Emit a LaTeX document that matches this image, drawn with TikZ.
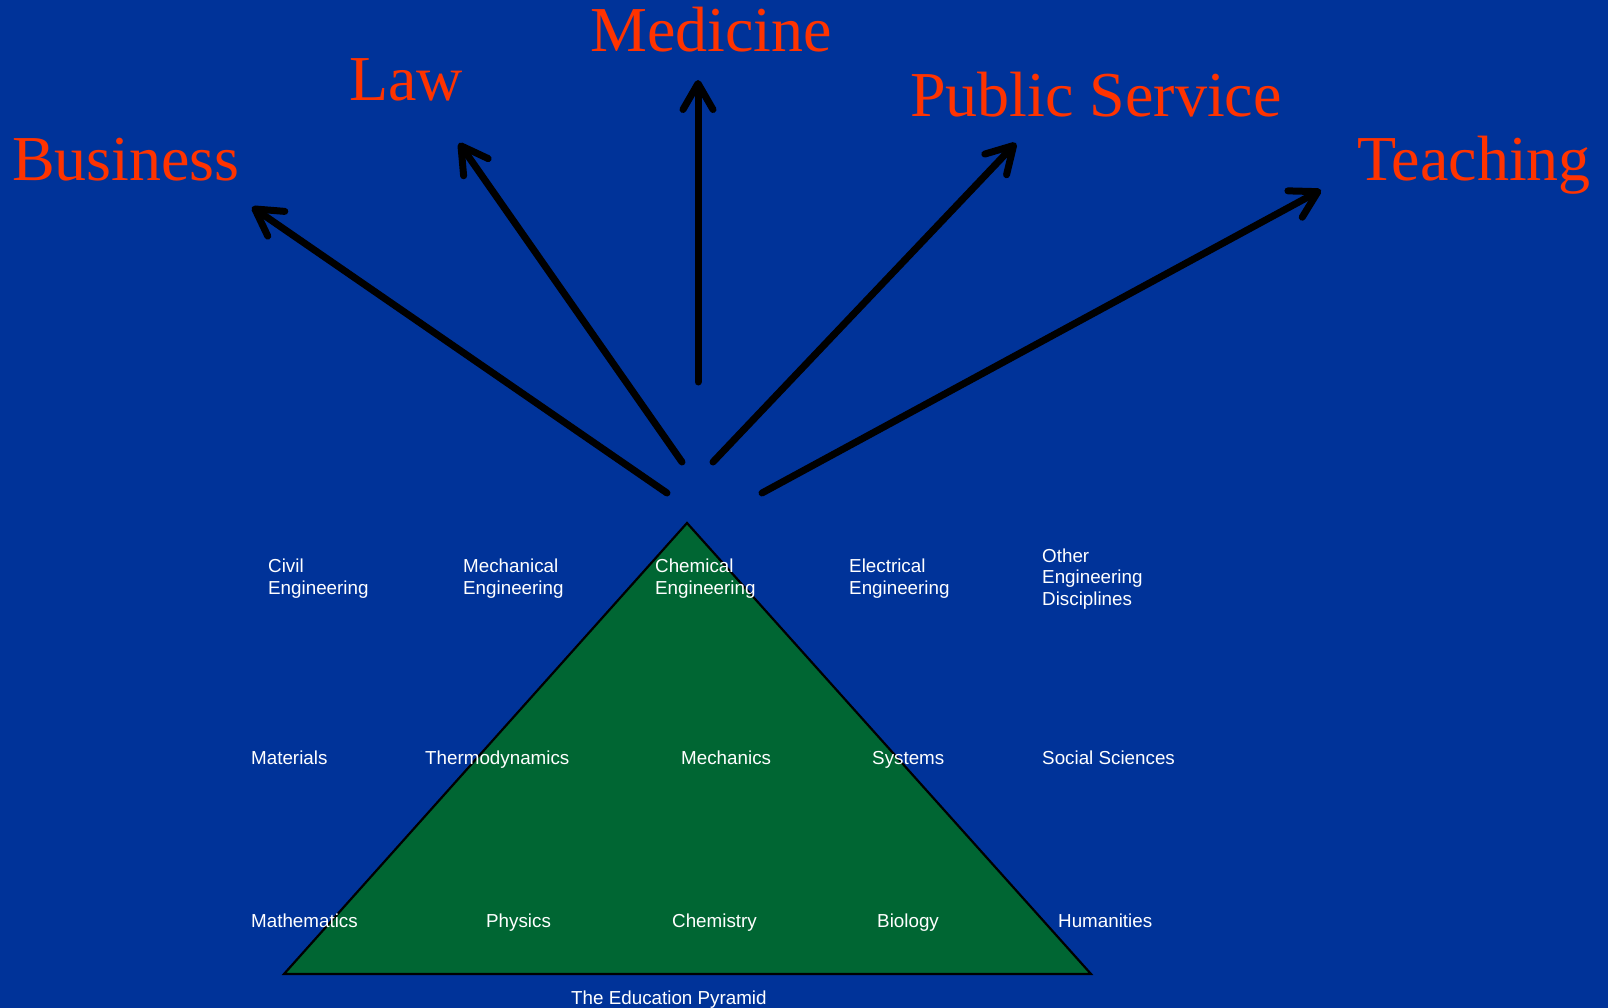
\documentclass[tikz,border=0pt]{standalone}
\usepackage{fontspec}
\setmainfont{Liberation Serif}
\setsansfont{Liberation Sans}
\usetikzlibrary{arrows.meta}
\definecolor{bgblue}{HTML}{003399}
\definecolor{pyrgreen}{HTML}{006633}
\definecolor{careerred}{HTML}{FF3300}
\tikzset{
  lbl/.style={font=\sffamily\fontsize{18.8}{21.8}\selectfont, text=white, inner sep=0pt, align=left},
  big/.style={font=\fontsize{64}{70}\selectfont, text=careerred, inner sep=0pt, anchor=base west},
  arr/.style={line width=7pt, line cap=round, line join=round, -{Straight Barb[length=26pt,width=30pt,line cap=round,line join=round]}}
}
\begin{document}
\begin{tikzpicture}[x=1pt,y=-1pt]
\fill[bgblue] (0,0) rectangle (1608,1008);
\useasboundingbox (0,0) rectangle (1608,1008);
% pyramid
\coordinate (apex) at (687,523);
\coordinate (bl) at (284,974);
\coordinate (br) at (1091,974);
\draw[fill=pyrgreen, line width=2.2pt, line join=miter] (apex) -- (bl) -- (br) -- cycle;
% career labels
\node[big] (business) at (12,181) {Business};
\node[big] (law) at (349,101) {Law};
\node[big] (medicine) at (590,52) {Medicine};
\node[big] (public) at (910,117) {Public Service};
\node[big] (teaching) at (1357,181) {Teaching};
% arrow ends
\coordinate (tB) at (667,493);
\coordinate (hB) at (252,207);
\coordinate (tL) at (682,462);
\coordinate (hL) at (459,143);
\coordinate (tM) at (698,382);
\coordinate (hM) at (698,80);
\coordinate (tP) at (713,462);
\coordinate (hP) at (1016,143);
\coordinate (tT) at (762,493);
\coordinate (hT) at (1321,190);
\draw[arr] (tB) -- (hB);
\draw[arr] (tL) -- (hL);
\draw[arr] (tM) -- (hM);
\draw[arr] (tP) -- (hP);
\draw[arr] (tT) -- (hT);
% row 1
\node[lbl, anchor=west] (civil) at (268,579) {Civil\\Engineering};
\node[lbl, anchor=west] (mech) at (463,579) {Mechanical\\Engineering};
\node[lbl, anchor=west] (chem) at (655,579) {Chemical\\Engineering};
\node[lbl, anchor=west] (elec) at (849,579) {Electrical\\Engineering};
\node[lbl, anchor=west] (other) at (1042,579) {Other\\Engineering\\Disciplines};
% row 2
\node[lbl, anchor=base west] (materials) at (251,764) {Materials};
\node[lbl, anchor=base west] (thermo) at (425,764) {Thermodynamics};
\node[lbl, anchor=base west] (mechanics) at (681,764) {Mechanics};
\node[lbl, anchor=base west] (systems) at (872,764) {Systems};
\node[lbl, anchor=base west] (social) at (1042,764) {Social Sciences};
% row 3
\node[lbl, anchor=base west] (math) at (251,927) {Mathematics};
\node[lbl, anchor=base west] (physics) at (486,927) {Physics};
\node[lbl, anchor=base west] (chemistry) at (672,927) {Chemistry};
\node[lbl, anchor=base west] (biology) at (877,927) {Biology};
\node[lbl, anchor=base west] (humanities) at (1058,927) {Humanities};
% caption
\node[lbl, anchor=base west] (caption) at (571,1004) {The Education Pyramid};
\end{tikzpicture}
\end{document}
